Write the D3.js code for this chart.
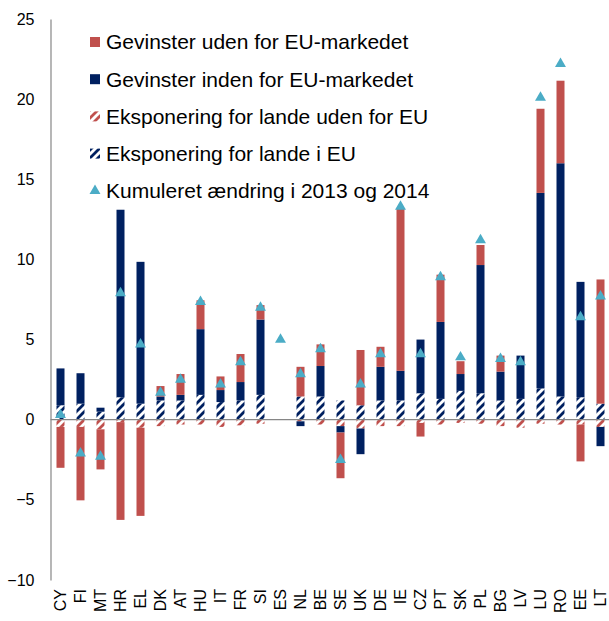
<!DOCTYPE html>
<html>
<head>
<meta charset="utf-8">
<script src="https://cdn.jsdelivr.net/npm/d3@7"></script>
<style>
  html, body { margin: 0; padding: 0; background: #fff; }
  svg { display: block; font-family: "Liberation Sans", Arial, sans-serif; }
</style>
</head>
<body>
<svg id="chart" width="609" height="621"></svg>
<script>
// ---- data ----
const categories = ["CY","FI","MT","HR","EL","DK","AT","HU","IT","FR","SI","ES","NL","BE","SE","UK","DE","IE","CZ","PT","SK","PL","BG","LV","LU","RO","EE","LT"];
// Eksponering for lande i EU
const exposureEU      = [0.9, 1.0, 0.5, 1.4, 1.0, 1.2, 1.2, 1.55, 1.1, 1.2, 1.55, null, 1.45, 1.45, 1.2, 0.9, 1.2, 1.2, 1.65, 1.3, 1.8, 1.65, 1.2, 1.3, 1.95, 1.45, 1.4, 1.0];
// Eksponering for lande uden for EU
const exposureNonEU   = [-0.45, -0.45, -0.6, -0.15, -0.5, -0.4, -0.3, -0.3, -0.45, -0.35, -0.25, null, -0.1, -0.3, -0.4, -0.55, -0.4, -0.4, -0.2, -0.3, -0.2, -0.25, -0.4, -0.5, -0.25, -0.3, -0.3, -0.45];
// Gevinster inden for EU-markedet
const gainsInsideEU   = [2.3, 1.9, 0.25, 11.7, 8.85, 0.25, 0.35, 4.1, 0.75, 1.15, 4.7, null, -0.3, 1.9, -0.4, -1.6, 2.1, 1.85, 3.35, 4.8, 1.05, 8.0, 1.8, 2.7, 12.2, 14.55, 7.2, -1.2];
// Gevinster uden for EU-markedet
const gainsOutsideEU  = [-2.55, -4.58, -2.5, -6.1, -5.5, 0.65, 1.3, 1.8, 0.85, 1.75, 0.9, null, 1.85, 1.35, -2.85, 3.45, 1.25, 10.1, -0.85, 2.95, 0.8, 1.25, 1.0, 0, 5.25, 5.15, -2.3, 7.75];
// Kumuleret ændring i 2013 og 2014
const cumulative      = [0.3, -2.1, -2.3, 7.9, 4.7, 1.7, 2.5, 7.35, 2.2, 3.6, 7.0, 5.0, 2.85, 4.4, -2.5, 2.2, 4.1, 13.3, 4.1, 8.9, 3.9, 11.2, 3.8, 3.6, 20.1, 22.2, 6.4, 7.7];
const yTicks = [-10, -5, 0, 5, 10, 15, 20, 25];

const seriesKeys = ["expEU", "expNonEU", "inside", "outside"];
const legendItems = [
  {label: "Gevinster uden for EU-markedet", fill: "#C0504D", type: "rect"},
  {label: "Gevinster inden for EU-markedet", fill: "#002060", type: "rect"},
  {label: "Eksponering for lande uden for EU", fill: "url(#hatchRed)", type: "rect"},
  {label: "Eksponering for lande i EU", fill: "url(#hatchNavy)", type: "rect"},
  {label: "Kumuleret ændring i 2013 og 2014", fill: "#4BACC6", type: "tri"}
];
const fills = {expEU: "url(#hatchNavy)", expNonEU: "url(#hatchRed)", inside: "#002060", outside: "#C0504D"};

const rows = categories.map((c, i) => ({
  cat: c,
  expEU: exposureEU[i] || 0,
  expNonEU: exposureNonEU[i] || 0,
  inside: gainsInsideEU[i] || 0,
  outside: gainsOutsideEU[i] || 0
}));

// ---- chart ----
const svg = d3.select("#chart");
const defs = svg.append("defs");
function hatch(id, color) {
  const p = defs.append("pattern").attr("id", id)
    .attr("patternUnits", "userSpaceOnUse").attr("width", 8).attr("height", 8);
  p.append("rect").attr("width", 8).attr("height", 8).attr("fill", "#fff");
  p.append("path").attr("d", "M-2,2 L2,-2 M0,8 L8,0 M6,10 L10,6")
    .attr("stroke", color).attr("stroke-width", 2.8);
}
hatch("hatchNavy", "#002060");
hatch("hatchRed", "#C0504D");

const x = d3.scaleBand().domain(categories).range([50.5, 610.5]).paddingInner(0.6).paddingOuter(0.3);
const y = d3.scaleLinear().domain([-10, 25]).range([580, 19]);

const stacked = d3.stack().keys(seriesKeys).offset(d3.stackOffsetDiverging)(rows);

const bw = 8;
svg.append("g").selectAll("g").data(stacked).join("g")
  .attr("fill", d => fills[d.key])
  .selectAll("rect").data(d => d).join("rect")
  .attr("x", d => x(d.data.cat) + x.bandwidth() / 2 - bw / 2)
  .attr("width", bw)
  .attr("y", d => y(Math.max(d[0], d[1])))
  .attr("height", d => Math.abs(y(d[0]) - y(d[1])));

// axes
const yAxis = d3.axisLeft(y).tickValues(yTicks).tickSize(0).tickPadding(16).tickFormat(d3.format("d"));
const gy = svg.append("g").attr("transform", "translate(50.5,0)").call(yAxis);
gy.select(".domain").attr("stroke", "#868686").attr("stroke-width", 1.2);
gy.selectAll("text").attr("font-size", 16).attr("fill", "#000")
  .attr("font-family", "Liberation Sans, Arial, sans-serif");

const xAxis = d3.axisBottom(x).tickSize(0);
const gx = svg.append("g").attr("transform", `translate(0,${y(0)})`).call(xAxis);
gx.select(".domain").attr("stroke", "#868686").attr("stroke-width", 1.2)
  .attr("d", `M50.5,0H609`);
gx.selectAll("text")
  .attr("font-size", 16).attr("fill", "#000")
  .attr("font-family", "Liberation Sans, Arial, sans-serif")
  .attr("text-anchor", "end")
  .attr("transform", `translate(0,${589 - y(0)}) rotate(-90)`)
  .attr("x", 0).attr("y", 0).attr("dy", "0.36em");

// markers
const tri = d3.symbol().type(d3.symbolTriangle).size(52);
svg.append("g").selectAll("path").data(categories.map((c, i) => ({c, v: cumulative[i]})))
  .join("path")
  .attr("d", tri)
  .attr("fill", "#4BACC6")
  .attr("transform", d => `translate(${x(d.c) + x.bandwidth() / 2},${y(d.v)})`);

// legend
const lg = svg.append("g");
legendItems.forEach((it, i) => {
  const cy = 42 + i * 37.2;
  const g = lg.append("g");
  if (it.type === "rect") {
    g.append("rect").attr("x", 90).attr("y", cy - 5).attr("width", 10).attr("height", 10).attr("fill", it.fill);
  } else {
    g.append("path").attr("d", tri).attr("fill", it.fill).attr("transform", `translate(95,${cy})`);
  }
  g.append("text").attr("x", 106).attr("y", cy).attr("dy", "0.35em")
    .attr("font-size", 21).attr("fill", "#000").text(it.label);
});
</script>
</body>
</html>
